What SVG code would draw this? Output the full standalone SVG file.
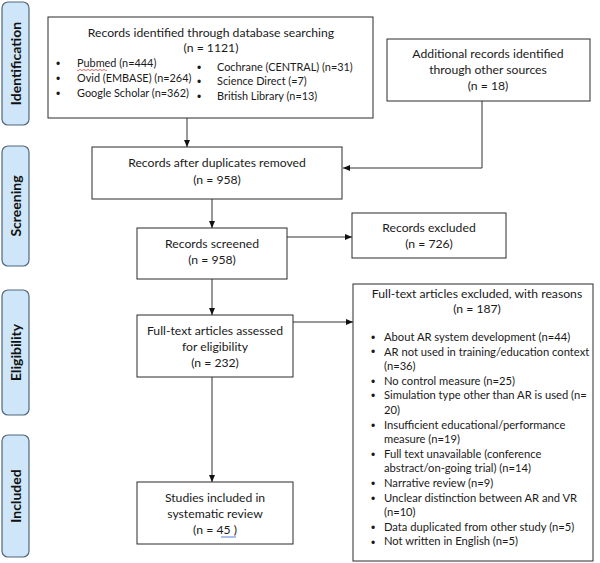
<svg xmlns="http://www.w3.org/2000/svg" width="600" height="563" viewBox="0 0 600 563">
<defs>
<style>
.box{fill:#fff;stroke:#2b2b2b;stroke-width:1}
.phase{fill:#cfe6f8;stroke:#4f667c;stroke-width:1.2}
.pt{font-family:Lato,"Open Sans","Liberation Sans",sans-serif;font-weight:bold;font-size:14px;fill:#111;text-anchor:middle}
.t{font-family:Lato,"Open Sans","Liberation Sans",sans-serif;font-size:12.2px;fill:#1a1a1a}
.c{text-anchor:middle}
.s{font-size:10.9px}
.r{font-size:11.2px}
.bu{font-family:"Liberation Sans",sans-serif;font-size:12px;fill:#1a1a1a}
.ln{fill:none;stroke:#333;stroke-width:1}
</style>
<marker id="ah" markerWidth="7" markerHeight="6" refX="7" refY="3" orient="auto" markerUnits="userSpaceOnUse">
<path d="M0,0 L7,3 L0,6 Z" fill="#111"/>
</marker>
</defs>

<g id="phase-identification">
<rect class="phase" x="2" y="2" width="27" height="123" rx="6"/>
<text class="pt" transform="translate(20.5,63.5) rotate(-90)">Identification</text>
</g>
<g id="phase-screening">
<rect class="phase" x="2" y="146" width="27" height="120" rx="6"/>
<text class="pt" transform="translate(20.5,206) rotate(-90)">Screening</text>
</g>
<g id="phase-eligibility">
<rect class="phase" x="2" y="290" width="27" height="125" rx="6"/>
<text class="pt" transform="translate(20.5,352.5) rotate(-90)">Eligibility</text>
</g>
<g id="phase-included">
<rect class="phase" x="2" y="435" width="27" height="122" rx="6"/>
<text class="pt" transform="translate(20.5,496) rotate(-90)">Included</text>
</g>

<g id="connectors">
<line class="ln" x1="187" y1="118" x2="187" y2="147" marker-end="url(#ah)"/>
<polyline class="ln" points="482,101 482,168 343,168" marker-end="url(#ah)"/>
<line class="ln" x1="212" y1="199" x2="212" y2="228" marker-end="url(#ah)"/>
<line class="ln" x1="287" y1="237" x2="352" y2="237" marker-end="url(#ah)"/>
<line class="ln" x1="212" y1="279" x2="212" y2="315" marker-end="url(#ah)"/>
<line class="ln" x1="293" y1="322" x2="353" y2="322" marker-end="url(#ah)"/>
<line class="ln" x1="212" y1="377" x2="212" y2="482" marker-end="url(#ah)"/>
</g>

<g id="records-identified">
<rect class="box" x="48" y="17" width="325" height="101"/>
<text class="t c" x="211" y="37">Records identified through database searching</text>
<text class="t c" x="211" y="52">(n = 1121)</text>
<g class="bu">
<text x="56" y="68">•</text>
<text x="56" y="83">•</text>
<text x="56" y="98">•</text>
<text x="197" y="72">•</text>
<text x="197" y="86">•</text>
<text x="197" y="101">•</text>
</g>
<g class="t s">
<text x="77" y="67">Pubmed (n=444)</text>
<text x="77" y="82">Ovid (EMBASE) (n=264)</text>
<text x="77" y="97">Google Scholar (n=362)</text>
<text x="217" y="71">Cochrane (CENTRAL) (n=31)</text>
<text x="217" y="85">Science Direct (=7)</text>
<text x="217" y="100">British Library (n=13)</text>
</g>
<path d="M77,70 q1,1.2 2,0 t2,0 t2,0 t2,0 t2,0 t2,0 t2,0 t2,0 t2,0 t2,0 t2,0 t2,0 t2,0 t2,0 t2,0" fill="none" stroke="#e03030" stroke-width="0.7"/>
</g>

<g id="additional-records">
<rect class="box" x="387" y="39" width="203" height="62"/>
<text class="t c" x="488" y="58">Additional records identified</text>
<text class="t c" x="488" y="74">through other sources</text>
<text class="t c" x="488" y="90">(n = 18)</text>
</g>

<g id="after-duplicates">
<rect class="box" x="92" y="147" width="250" height="52"/>
<text class="t c" x="217" y="167">Records after duplicates removed</text>
<text class="t c" x="217" y="184">(n = 958)</text>
</g>

<g id="records-screened">
<rect class="box" x="137" y="228" width="150" height="51"/>
<text class="t c" x="212" y="248">Records screened</text>
<text class="t c" x="212" y="264">(n = 958)</text>
</g>

<g id="records-excluded">
<rect class="box" x="352" y="213" width="154" height="45"/>
<text class="t c" x="429" y="232">Records excluded</text>
<text class="t c" x="429" y="248">(n = 726)</text>
</g>

<g id="fulltext-assessed">
<rect class="box" x="137" y="315" width="156" height="62"/>
<text class="t c" x="215" y="335">Full-text articles assessed</text>
<text class="t c" x="215" y="351">for eligibility</text>
<text class="t c" x="215" y="367">(n = 232)</text>
</g>

<g id="studies-included">
<rect class="box" x="137" y="482" width="156" height="62"/>
<text class="t c" x="215" y="502">Studies included in</text>
<text class="t c" x="215" y="518">systematic review</text>
<text class="t c" x="215" y="534">(n = 45 )</text>
<line x1="221" y1="537" x2="236" y2="537" stroke="#3060d0" stroke-width="0.8"/>
</g>

<g id="fulltext-excluded">
<rect class="box" x="353" y="284" width="240" height="277"/>
<text class="t c" x="477" y="298">Full-text articles excluded, with reasons</text>
<text class="t c" x="477" y="313">(n = 187)</text>
<g class="bu">
<text x="371" y="342">•</text>
<text x="371" y="356">•</text>
<text x="371" y="386">•</text>
<text x="371" y="400">•</text>
<text x="371" y="430">•</text>
<text x="371" y="459">•</text>
<text x="371" y="488">•</text>
<text x="371" y="503">•</text>
<text x="371" y="532">•</text>
<text x="371" y="547">•</text>
</g>
<g class="t r">
<text x="384" y="341">About AR system development (n=44)</text>
<text x="384" y="355.6">AR not used in training/education context</text>
<text x="384" y="370.2">(n=36)</text>
<text x="384" y="384.8">No control measure (n=25)</text>
<text x="384" y="399.4">Simulation type other than AR is used (n=</text>
<text x="384" y="414">20)</text>
<text x="384" y="428.6">Insufficient educational/performance</text>
<text x="384" y="443.2">measure (n=19)</text>
<text x="384" y="457.8">Full text unavailable (conference</text>
<text x="384" y="472.4">abstract/on-going trial) (n=14)</text>
<text x="384" y="487">Narrative review (n=9)</text>
<text x="384" y="501.6">Unclear distinction between AR and VR</text>
<text x="384" y="516.2">(n=10)</text>
<text x="384" y="530.8">Data duplicated from other study (n=5)</text>
<text x="384" y="545.4">Not written in English (n=5)</text>
</g>
</g>
</svg>
